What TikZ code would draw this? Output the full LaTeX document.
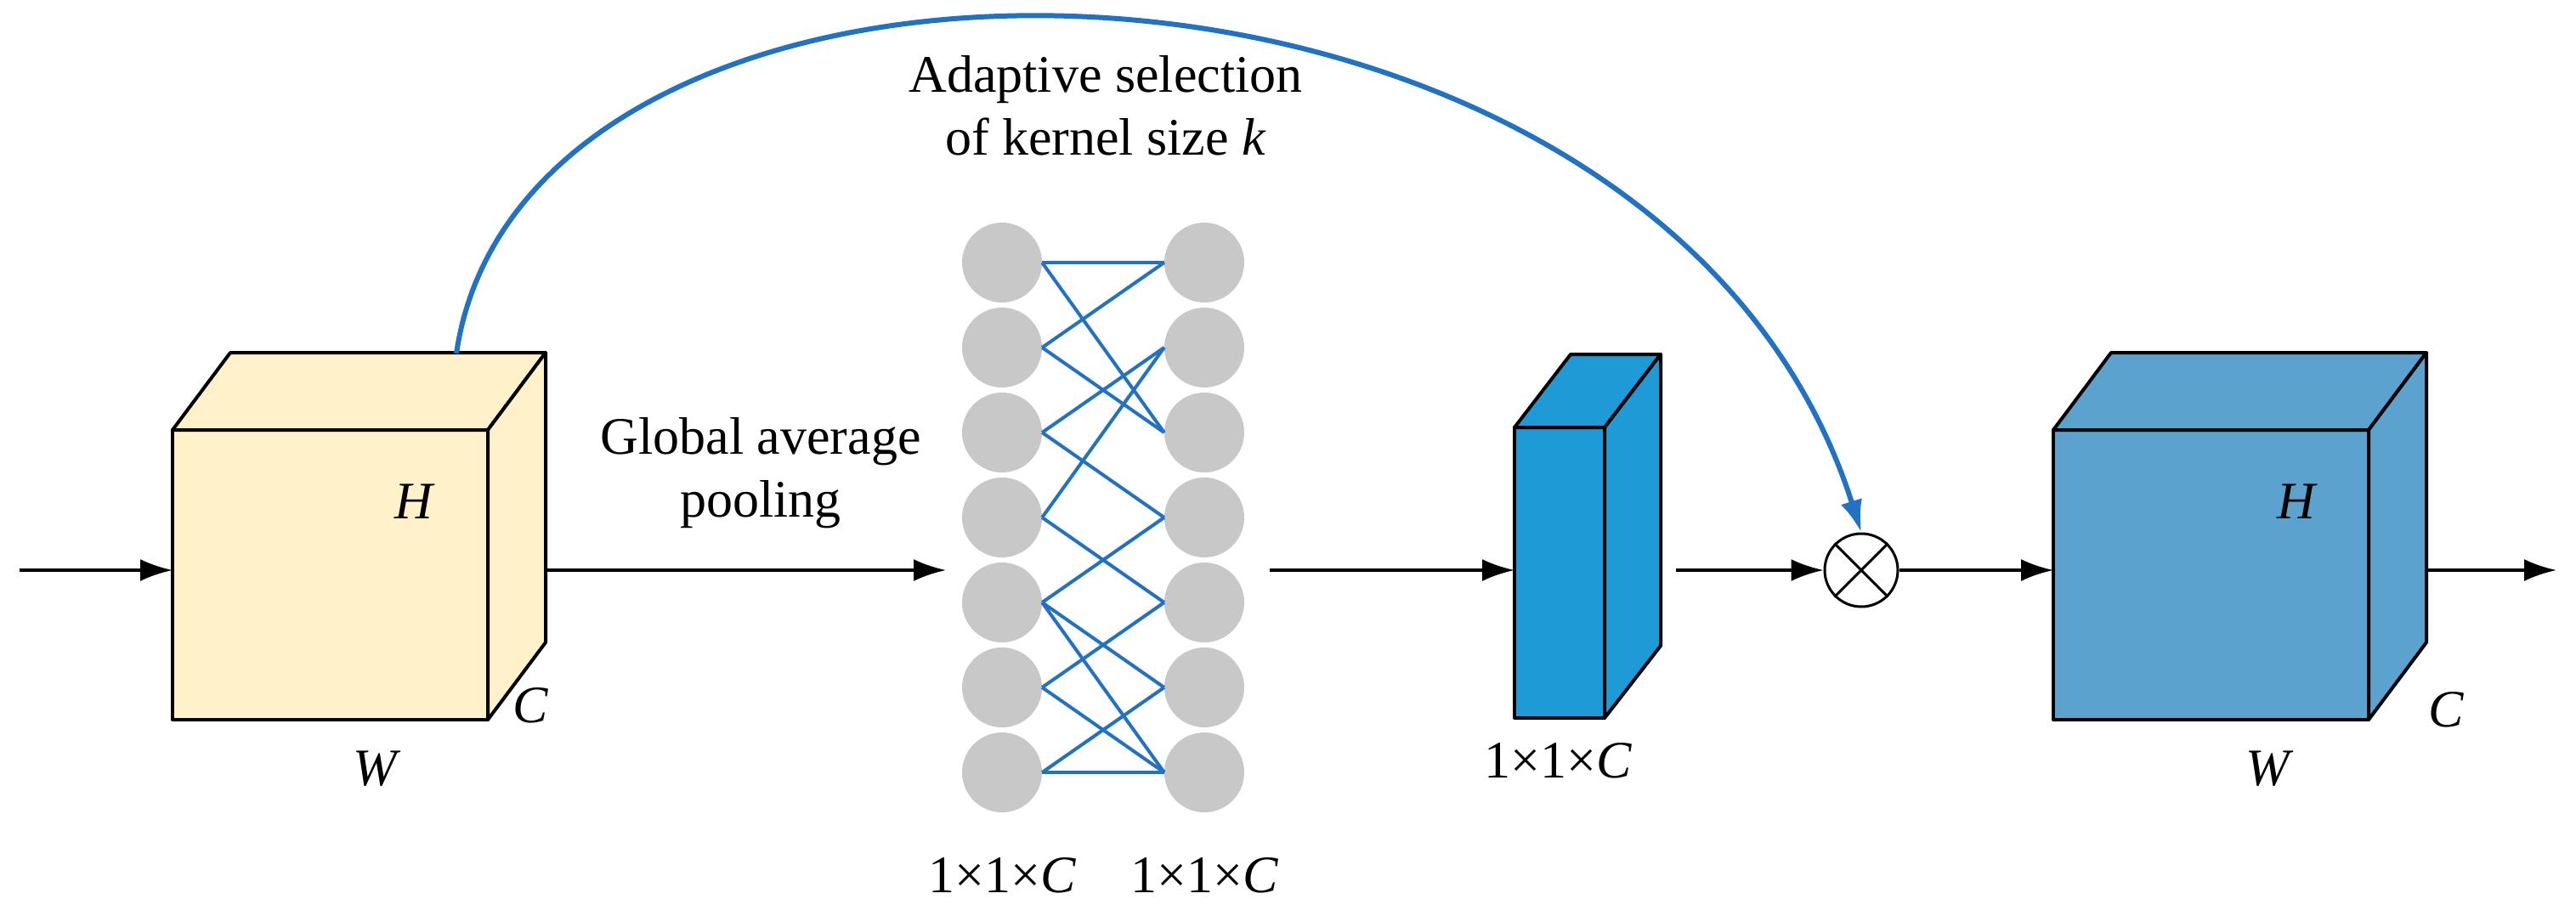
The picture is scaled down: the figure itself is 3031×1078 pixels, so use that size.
\documentclass[tikz,border=0pt]{standalone}
\usepackage{fontspec}
\setmainfont{Liberation Serif}
\usetikzlibrary{arrows.meta}
\definecolor{cyel}{HTML}{FFF2CA}
\definecolor{cbl1}{HTML}{1E9BD7}
\definecolor{cbl2}{HTML}{5BA2CE}
\definecolor{clink}{HTML}{2272C3}
\definecolor{cgray}{HTML}{C8C8C8}
\begin{document}
\begin{tikzpicture}[x=1pt,y=-1pt,
  edge/.style={line width=4pt,line join=round},
  arr/.style={line width=3.5pt,-{Latex[length=38pt,width=26pt]}},
  lbl/.style={font=\fontsize{62}{74}\selectfont,align=center},
  ilbl/.style={font=\fontsize{62}{74}\selectfont\itshape},
  neuron/.style={circle,fill=cgray,minimum size=94pt,inner sep=0pt},
  link/.style={clink,line width=4pt}]
\useasboundingbox (0,0) rectangle (3031,1078);
% yellow cube
\filldraw[edge,fill=cyel] (203,506) rectangle (574,847);
\filldraw[edge,fill=cyel] (203,506) -- (271,415) -- (642,415) -- (574,506) -- cycle;
\filldraw[edge,fill=cyel] (574,506) -- (642,415) -- (642,756) -- (574,847) -- cycle;
\node[ilbl] (h1) at (487,590) {H};
\node[ilbl] (c1) at (624,830) {C};
\node[ilbl] (w1) at (441,905) {W};
\coordinate (top1) at (537,416);
% thin blue box
\filldraw[edge,fill=cbl1] (1782,503) rectangle (1888,845);
\filldraw[edge,fill=cbl1] (1782,503) -- (1848,417) -- (1954,417) -- (1888,503) -- cycle;
\filldraw[edge,fill=cbl1] (1888,503) -- (1954,417) -- (1954,760) -- (1888,845) -- cycle;
\node[lbl] (s3) at (1833,895) {1×1×\textit{C}};
% big blue cube
\filldraw[edge,fill=cbl2] (2416,506) rectangle (2787,847);
\filldraw[edge,fill=cbl2] (2416,506) -- (2484,415) -- (2855,415) -- (2787,506) -- cycle;
\filldraw[edge,fill=cbl2] (2787,506) -- (2855,415) -- (2855,756) -- (2787,847) -- cycle;
\node[ilbl] (h2) at (2702,590) {H};
\node[ilbl] (c2) at (2878,835) {C};
\node[ilbl] (w2) at (2668,905) {W};
% neurons
\foreach \i in {1,...,7} {
  \node[neuron] (l\i) at (1179,{309+100*(\i-1)}) {};
  \node[neuron] (r\i) at (1417,{309+100*(\i-1)}) {};
}
\foreach \a/\b in {1/1,1/3,2/1,2/3,3/2,3/4,4/2,4/5,5/4,5/6,5/7,6/5,6/7,7/6,7/7}
  \draw[link] (l\a.east) -- (r\b.west);
\node[lbl] (s1) at (1179,1030) {1×1×\textit{C}};
\node[lbl] (s2) at (1417,1030) {1×1×\textit{C}};
\node[lbl] (ad) at (1301,124) {Adaptive selection\\of kernel size \textit{k}};
\node[lbl] (gap) at (895,557) {Global average\\pooling};
% otimes
\node[circle,draw,line width=3pt,minimum size=86pt,inner sep=0pt] (ot) at (2190,671) {};
\draw[line width=3pt] (ot.north west) -- (ot.south east) (ot.north east) -- (ot.south west);
% arrows
\coordinate (in) at (23,671);
\coordinate (out) at (3008,671);
\coordinate (gin) at (1113,671);
\coordinate (gout) at (1494,671);
\draw[arr] (in) -- (203,671);
\draw[arr] (642,671) -- (gin);
\draw[arr] (gout) -- (1782,671);
\draw[arr] (1972,671) -- (ot.west);
\draw[arr] (ot.east) -- (2416,671);
\draw[arr] (2855,671) -- (out);
\draw[clink,line width=6pt,-{Latex[length=38pt,width=26pt]}] (top1) .. controls (620,-150) and (1950,-130) .. (ot.north);
\end{tikzpicture}
\end{document}
